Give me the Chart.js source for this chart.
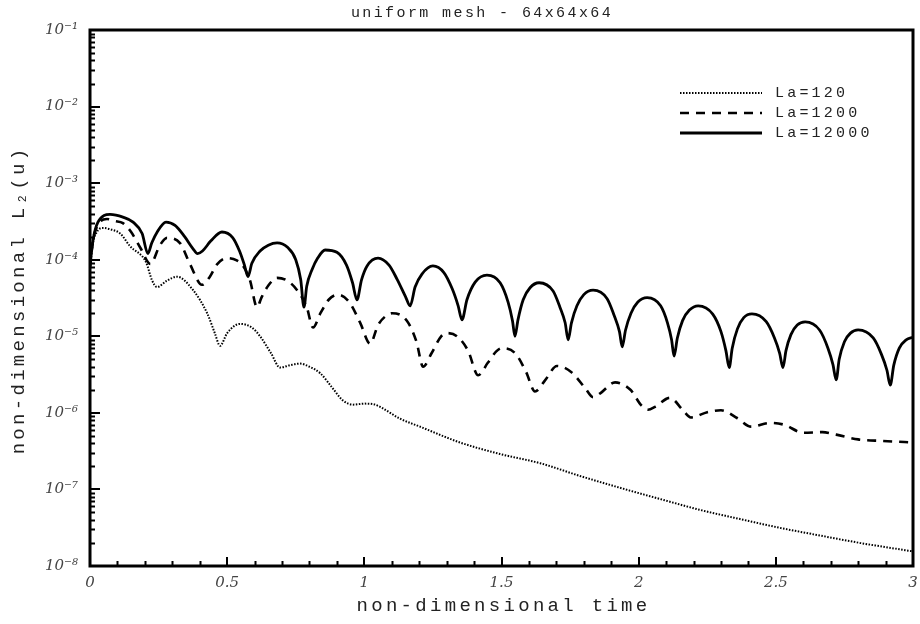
<!DOCTYPE html>
<html><head><meta charset="utf-8">
<script src="https://cdn.jsdelivr.net/npm/chart.js@4.4.0/dist/chart.umd.min.js"></script>
<style>html,body{margin:0;padding:0;background:#fff}#wrap{width:920px;height:624px}</style>
</head><body><div id="wrap"><canvas id="c" width="920" height="624"></canvas></div>
<script>
const chartTitle = 'uniform mesh - 64x64x64';
const xTitle = 'non-dimensional time';
const yTitle = 'non-dimensional L\u2082(u)';
const seriesNames = ['La=120', 'La=1200', 'La=12000'];
const xTickValues = [0, 0.5, 1, 1.5, 2, 2.5, 3];
const xTickLabels = ['0', '0.5', '1', '1.5', '2', '2.5', '3'];
const xMinorTicks = [0.1,0.2,0.3,0.4,0.6,0.7,0.8,0.9,1.1,1.2,1.3,1.4,1.6,1.7,1.8,1.9,2.1,2.2,2.3,2.4,2.6,2.7,2.8,2.9];
const yTickValues = [1e-8, 1e-7, 1e-6, 1e-5, 1e-4, 1e-3, 1e-2, 1e-1];
const yTickLabels = ['10\u207B\u2078','10\u207B\u2077','10\u207B\u2076','10\u207B\u2075','10\u207B\u2074','10\u207B\u00B3','10\u207B\u00B2','10\u207B\u00B9'];
const yMinorMultipliers = [2,3,4,5,6,7,8,9];

// La=120 (dotted)
const la120T = [0, 0.01, 0.025, 0.047, 0.073, 0.11, 0.146, 0.204, 0.226, 0.244,
 0.28, 0.317, 0.376, 0.427, 0.455, 0.474,
 0.5, 0.547, 0.59, 0.62, 0.66, 0.693,
 0.73, 0.766, 0.8, 0.839, 0.88, 0.922, 0.959, 1.0, 1.032, 1.057,
 1.13, 1.203, 1.349, 1.495, 1.641, 1.786, 1.932, 2.078, 2.224, 2.37, 2.515, 2.661, 2.807, 3.0];
const la120V = [7.5e-5, 1.6e-4, 2.3e-4, 2.6e-4, 2.5e-4, 2.2e-4, 1.5e-4, 9.3e-5, 5.4e-5, 4.4e-5,
 5.3e-5, 6.0e-5, 4.0e-5, 2.0e-5, 1.1e-5, 7.5e-6,
 1.1e-5, 1.45e-5, 1.3e-5, 1.0e-5, 6e-6, 3.9e-6,
 4.2e-6, 4.4e-6, 4.0e-6, 3.3e-6, 2.2e-6, 1.45e-6, 1.28e-6, 1.32e-6, 1.3e-6, 1.2e-6,
 8.4e-7, 6.6e-7, 4.1e-7, 2.9e-7, 2.2e-7, 1.5e-7, 1.05e-7, 7.5e-8, 5.4e-8, 4.1e-8, 3.15e-8, 2.5e-8, 2.0e-8, 1.55e-8];

// La=1200 (dashed)
const la1200T = [0, 0.01, 0.03, 0.062, 0.09, 0.12, 0.15, 0.185, 0.22,
 0.255, 0.281, 0.328, 0.365, 0.408,
 0.437, 0.463, 0.5, 0.535, 0.558, 0.583, 0.609,
 0.625, 0.65, 0.682, 0.72, 0.755, 0.79, 0.813,
 0.84, 0.87, 0.904, 0.945, 0.985, 1.021,
 1.05, 1.075, 1.101, 1.155, 1.19, 1.214,
 1.245, 1.28, 1.301, 1.338, 1.378, 1.415,
 1.45, 1.48, 1.5, 1.55, 1.59, 1.622,
 1.66, 1.702, 1.755, 1.805, 1.834,
 1.86, 1.914, 1.97, 2.01, 2.034,
 2.06, 2.114, 2.16, 2.19, 2.25, 2.3, 2.36, 2.41, 2.48, 2.53, 2.6, 2.67, 2.72, 2.8, 2.89, 3.0];
const la1200V = [8e-5, 1.7e-4, 2.9e-4, 3.4e-4, 3.2e-4, 3.0e-4, 2.3e-4, 1.4e-4, 8.8e-5,
 1.55e-4, 1.93e-4, 1.65e-4, 8.7e-5, 4.7e-5,
 6.0e-5, 8.7e-5, 1.05e-4, 9.8e-5, 8.3e-5, 5.4e-5, 2.4e-5,
 3.2e-5, 4.6e-5, 5.8e-5, 5.3e-5, 4.0e-5, 2.4e-5, 1.3e-5,
 2.0e-5, 3.0e-5, 3.5e-5, 2.8e-5, 1.5e-5, 8e-6,
 1.4e-5, 1.8e-5, 2.0e-5, 1.6e-5, 8.5e-6, 4.0e-6,
 6.0e-6, 1.0e-5, 1.1e-5, 1.0e-5, 6.5e-6, 3.1e-6,
 4.5e-6, 6.3e-6, 7e-6, 6e-6, 3.4e-6, 1.9e-6,
 2.7e-6, 4.1e-6, 3.4e-6, 2.1e-6, 1.6e-6,
 1.8e-6, 2.5e-6, 2.0e-6, 1.25e-6, 1.1e-6,
 1.2e-6, 1.57e-6, 1.1e-6, 8.7e-7, 1.02e-6, 1.08e-6, 8.5e-7, 6.6e-7, 7.4e-7, 7e-7, 5.5e-7, 5.6e-7, 5.2e-7, 4.5e-7, 4.3e-7, 4.1e-7];

// La=12000 (solid)
const la12000T = [0, 0.011, 0.029, 0.073, 0.12, 0.157, 0.19, 0.211,
 0.225, 0.245, 0.277, 0.31, 0.345, 0.375, 0.392,
 0.41, 0.44, 0.481, 0.52, 0.545, 0.563, 0.576,
 0.59, 0.62, 0.65, 0.682, 0.72, 0.75, 0.768, 0.78,
 0.79, 0.81, 0.83, 0.857, 0.9, 0.935, 0.957, 0.973,
 0.99, 1.01, 1.05, 1.09, 1.12, 1.15, 1.167,
 1.185, 1.21, 1.25, 1.29, 1.32, 1.342, 1.356,
 1.374, 1.404, 1.447, 1.495, 1.524, 1.54, 1.549,
 1.56, 1.579, 1.604, 1.637, 1.688, 1.713, 1.732, 1.743,
 1.755, 1.775, 1.80, 1.834, 1.885, 1.91, 1.93, 1.94,
 1.952, 1.972, 1.997, 2.031, 2.08, 2.105, 2.12, 2.129,
 2.141, 2.16, 2.185, 2.217, 2.27, 2.30, 2.318, 2.33,
 2.341, 2.36, 2.383, 2.413, 2.465, 2.495, 2.514, 2.526,
 2.537, 2.555, 2.578, 2.607, 2.66, 2.69, 2.708, 2.72,
 2.731, 2.75, 2.772, 2.80, 2.855, 2.885, 2.905, 2.917,
 2.93, 2.95, 2.975, 3.0];
const la12000V = [8.5e-5, 1.8e-4, 3.1e-4, 3.9e-4, 3.6e-4, 3.1e-4, 2.2e-4, 1.2e-4,
 1.65e-4, 2.3e-4, 3.1e-4, 2.8e-4, 2.0e-4, 1.4e-4, 1.2e-4,
 1.3e-4, 1.75e-4, 2.3e-4, 1.95e-4, 1.3e-4, 8.5e-5, 6.0e-5,
 9e-5, 1.3e-4, 1.55e-4, 1.66e-4, 1.45e-4, 1.0e-4, 5.5e-5, 2.4e-5,
 4.5e-5, 7.5e-5, 1.05e-4, 1.34e-4, 1.25e-4, 8.5e-5, 5.0e-5, 3.0e-5,
 5.5e-5, 8.3e-5, 1.05e-4, 8.5e-5, 5.5e-5, 3.3e-5, 2.5e-5,
 4.4e-5, 6.5e-5, 8.3e-5, 6.8e-5, 4.2e-5, 2.5e-5, 1.64e-5,
 3.0e-5, 5.1e-5, 6.3e-5, 5.0e-5, 2.8e-5, 1.6e-5, 1.0e-5,
 1.64e-5, 3.0e-5, 4.3e-5, 5.0e-5, 3.9e-5, 2.4e-5, 1.5e-5, 9e-6,
 1.5e-5, 2.5e-5, 3.5e-5, 4.0e-5, 3.1e-5, 1.9e-5, 1.15e-5, 7.3e-6,
 1.2e-5, 2.0e-5, 2.8e-5, 3.2e-5, 2.5e-5, 1.5e-5, 9e-6, 5.5e-6,
 9.5e-6, 1.6e-5, 2.2e-5, 2.5e-5, 1.95e-5, 1.15e-5, 6.5e-6, 3.9e-6,
 7e-6, 1.25e-5, 1.75e-5, 1.96e-5, 1.55e-5, 9.5e-6, 6e-6, 3.9e-6,
 6.5e-6, 1.05e-5, 1.4e-5, 1.54e-5, 1.2e-5, 7e-6, 4.3e-6, 2.7e-6,
 5e-6, 8.5e-6, 1.1e-5, 1.21e-5, 9.5e-6, 5.8e-6, 3.6e-6, 2.3e-6,
 4.2e-6, 7e-6, 9e-6, 9.7e-6];

const pts = (T, V) => T.map((t, i) => ({x: t, y: V[i]}));
const MONO = '"Liberation Mono", "DejaVu Sans Mono", monospace';

const frameAndText = {
  id: 'frameAndText',
  afterDatasetsDraw(chart) {
    const {ctx, chartArea: a, scales: {x, y}} = chart;
    ctx.save();
    ctx.strokeStyle = '#000';
    ctx.lineCap = 'butt';
    ctx.lineWidth = 2;
    ctx.beginPath();
    yTickValues.forEach((v, i) => {
      const py = Math.round(y.getPixelForValue(v));
      ctx.moveTo(a.left, py); ctx.lineTo(a.left + 10, py);
      if (i < yTickValues.length - 1) {
        yMinorMultipliers.forEach(m => {
          const pm = Math.round(y.getPixelForValue(v * m)) + 0.5;
          ctx.moveTo(a.left, pm); ctx.lineTo(a.left + 5, pm);
        });
      }
    });
    xTickValues.forEach(v => {
      const px = Math.round(x.getPixelForValue(v));
      ctx.moveTo(px, a.bottom); ctx.lineTo(px, a.bottom - 9);
    });
    xMinorTicks.forEach(v => {
      const px = Math.round(x.getPixelForValue(v)) + 0.5;
      ctx.moveTo(px, a.bottom); ctx.lineTo(px, a.bottom - 5);
    });
    ctx.stroke();
    ctx.lineWidth = 3;
    ctx.strokeRect(a.left, a.top, a.right - a.left, a.bottom - a.top);

    ctx.fillStyle = '#222';
    ctx.textBaseline = 'middle';
    ctx.textAlign = 'center';
    ctx.font = '15px ' + MONO;
    ctx.letterSpacing = '2.4px';
    ctx.fillText(chartTitle, 482, 13);
    ctx.font = '19px ' + MONO;
    ctx.letterSpacing = '3.3px';
    ctx.fillText(xTitle, (a.left + a.right) / 2 + 2, 606);
    ctx.save();
    ctx.translate(19, 300);
    ctx.rotate(-Math.PI / 2);
    ctx.fillText(yTitle, 0, 0);
    ctx.restore();

    const rows = [93, 113, 133];
    chart.data.datasets.forEach((ds, i) => {
      const ry = rows[i];
      ctx.save();
      ctx.strokeStyle = ds.borderColor;
      ctx.lineWidth = ds.borderWidth;
      ctx.setLineDash(ds.borderDash || []);
      ctx.beginPath();
      ctx.moveTo(a.right - 233, ry); ctx.lineTo(a.right - 151, ry);
      ctx.stroke();
      ctx.restore();
      ctx.textAlign = 'left';
      ctx.font = '15px ' + MONO;
      ctx.letterSpacing = '3.2px';
      ctx.fillText(ds.label, a.right - 138, ry);
    });
    ctx.restore();
  }
};

new Chart(document.getElementById('c'), {
  type: 'line',
  data: {
    datasets: [
      {label: seriesNames[0], data: pts(la120T, la120V), borderColor: '#000', borderWidth: 2, borderDash: [1.5, 1.5]},
      {label: seriesNames[1], data: pts(la1200T, la1200V), borderColor: '#000', borderWidth: 2.6, borderDash: [9, 7]},
      {label: seriesNames[2], data: pts(la12000T, la12000V), borderColor: '#000', borderWidth: 2.8}
    ]
  },
  options: {
    responsive: false,
    animation: false,
    devicePixelRatio: 1,
    layout: {padding: {top: 30, right: 0, left: 0, bottom: 0}},
    elements: {
      point: {radius: 0, hoverRadius: 0},
      line: {cubicInterpolationMode: 'monotone', fill: false}
    },
    plugins: {legend: {display: false}, tooltip: {enabled: false}, title: {display: false}},
    scales: {
      x: {
        type: 'linear', min: 0, max: 3,
        afterBuildTicks: s => { s.ticks = xTickValues.map(v => ({value: v})); },
        afterFit: s => { s.height = 58; s.paddingRight = 7; s.paddingLeft = 0; },
        grid: {display: false, drawTicks: false},
        border: {display: false},
        ticks: {
          padding: 8, autoSkip: false, maxRotation: 0, color: '#444',
          font: {family: '"DejaVu Serif", serif', style: 'italic', size: 15},
          callback: v => xTickLabels[xTickValues.indexOf(v)]
        }
      },
      y: {
        type: 'logarithmic', min: 1e-8, max: 1e-1,
        afterBuildTicks: s => { s.ticks = yTickValues.map(v => ({value: v})); },
        afterFit: s => { s.width = 90; },
        grid: {display: false, drawTicks: false},
        border: {display: false},
        ticks: {
          padding: 12, autoSkip: false, color: '#444',
          font: {family: '"DejaVu Serif", serif', style: 'italic', size: 15},
          callback: v => yTickLabels[yTickValues.indexOf(v)]
        }
      }
    }
  },
  plugins: [frameAndText]
});
</script>
</body></html>
